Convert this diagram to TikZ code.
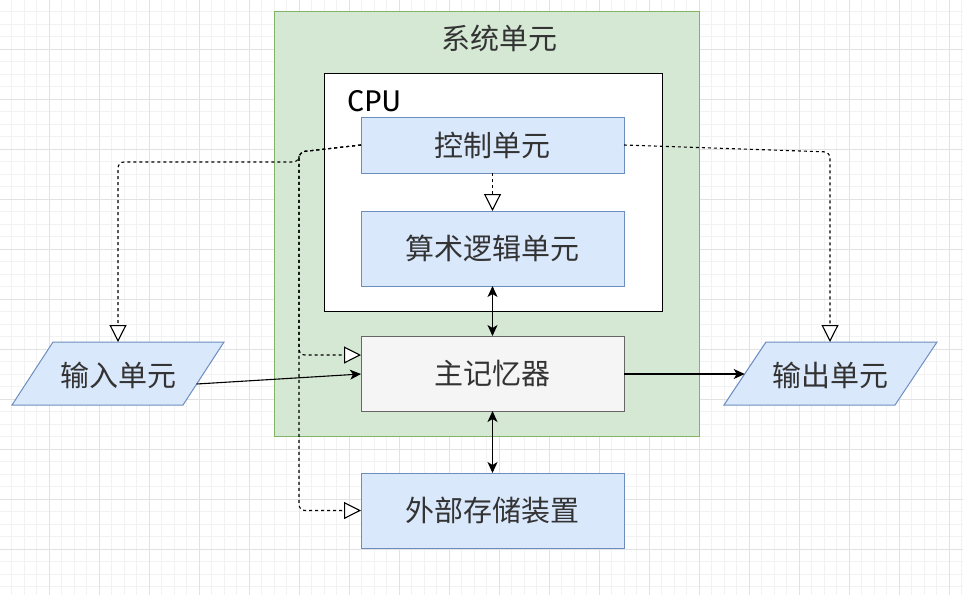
\documentclass[tikz,border=0pt]{standalone}
\usepackage{fontspec}
\newfontfamily\cjk{Noto Sans CJK SC}
\newfontfamily\cpufont{Fira Sans}
\usetikzlibrary{arrows.meta,calc}
\definecolor{gfill}{HTML}{D5E8D4}
\definecolor{gline}{HTML}{82B366}
\definecolor{bfill}{HTML}{DAE8FC}
\definecolor{bline}{HTML}{6C8EBF}
\definecolor{mfill}{HTML}{F5F5F5}
\definecolor{mline}{HTML}{666666}
\definecolor{txt}{HTML}{333333}
\definecolor{gridminor}{HTML}{F2F2F2}
\definecolor{gridmajor}{HTML}{E2E2E2}
\begin{document}
\begin{tikzpicture}[x=1pt,y=-1pt,
  lbl/.style={font=\cjk\fontsize{29}{33}\selectfont, text=txt, inner sep=0pt},
  bluebox/.style={draw=bline, fill=bfill, line width=1pt, minimum width=263pt, outer sep=0pt, inner sep=0pt, font=\cjk\fontsize{29}{33}\selectfont, text=txt},
  graybox/.style={draw=mline, fill=mfill, line width=1pt, minimum width=263pt, minimum height=75pt, outer sep=0pt, inner sep=0pt, font=\cjk\fontsize{29}{33}\selectfont, text=txt},
  para/.style={draw=bline, fill=bfill, line width=1pt},
  dsh/.style={draw=black, line width=1.1pt, dash pattern=on 3pt off 3pt, rounded corners=6pt, -{Triangle[open, fill=white, length=17pt, width=17pt, line width=1.1pt]}},
  sol/.style={draw=black, line width=1.1pt, -{Stealth[length=11pt, width=10pt, inset=3pt]}},
  dbl/.style={draw=black, line width=1.1pt, {Stealth[length=11pt, width=10pt, inset=3pt]}-{Stealth[length=11pt, width=10pt, inset=3pt]}}
]
\useasboundingbox (0,0) rectangle (963,595);
\fill[white] (0,0) rectangle (963,595);
% grid
\foreach \v in {-0.7,11.8,...,970}{
  \draw[gridminor, line width=1pt] (\v,0) -- (\v,595);
  \draw[gridminor, line width=1pt] (0,\v) -- (963,\v);
}
\foreach \v in {49.3,99.3,...,970}{
  \draw[gridmajor, line width=1pt] (\v,0) -- (\v,595);
  \draw[gridmajor, line width=1pt] (0,\v) -- (963,\v);
}
% system container
\node[draw=gline, fill=gfill, line width=1pt, minimum width=425pt, minimum height=425pt, inner sep=0pt] (sys) at (486.5,223.5) {};
\node[lbl] (systitle) at (499,38) {系统单元};
% CPU box
\node[draw=black, fill=white, line width=1pt, minimum width=338pt, minimum height=238pt, inner sep=0pt] (cpu) at (493,192) {};
\node[font=\cpufont\fontsize{30}{33}\selectfont, anchor=base west, inner sep=0pt] (cpulbl) at (347,111) {CPU};
% units
\node[bluebox, minimum height=56pt] (ctrl) at (492.5,145) {控制单元};
\node[bluebox, minimum height=75pt] (alu) at (492.5,248.5) {算术逻辑单元};
\node[graybox] (mem) at (492.5,373.5) {主记忆器};
\node[bluebox, minimum height=75pt] (ext) at (492.5,510.5) {外部存储装置};
% input / output parallelograms
\draw[para] (12,405) -- (183,405) -- (224,342) -- (53,342) -- cycle;
\node[lbl] (in) at (118,375) {输入单元};
\draw[para] (724,405) -- (895,405) -- (937,342) -- (766,342) -- cycle;
\node[lbl] (out) at (830,375) {输出单元};
\coordinate (inR) at (196.7,384);
\coordinate (inT) at (118,342);
\coordinate (outL) at (744.7,374);
\coordinate (outT) at (830,342);
\coordinate (memA) at (361,355);
% connectors
\draw[dsh] (ctrl.south) -- (alu.north);
\draw[dbl] (alu.south) -- (mem.north);
\draw[dbl] (mem.south) -- (ext.north);
\draw[sol] (inR) -- (mem.west |- 0,374);
\draw[sol] (mem.east |- 0,374) -- (outL);
\draw[dsh] (ctrl.west) -- (299,152) -- (299,355) -- (memA);
\draw[dsh] (ctrl.west) -- (299,152) -- (299,510.5) -- (ext.west);
\draw[dsh] (ctrl.west) -- (299,152) -- (299,162) -- (118,162) -- (inT);
\draw[dsh] (ctrl.east) -- (830,152) -- (outT);
\end{tikzpicture}
\end{document}
